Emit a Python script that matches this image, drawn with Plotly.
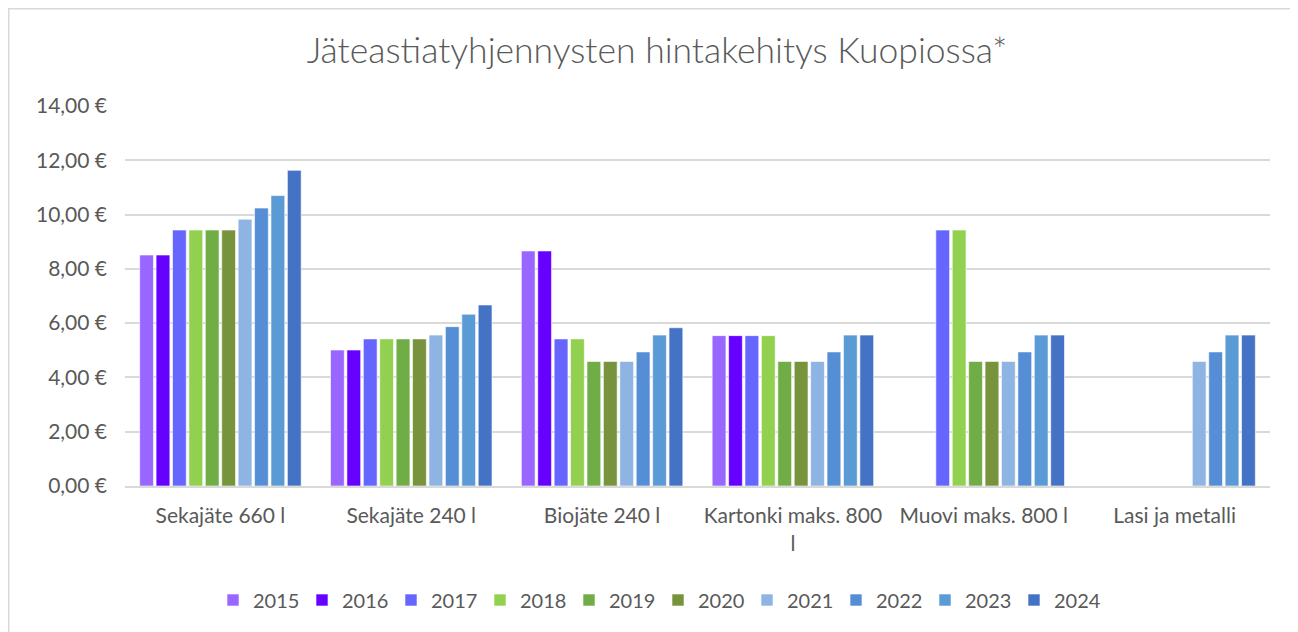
import plotly.graph_objects as go

categories = ["Sekajäte 660 l", "Sekajäte 240 l", "Biojäte 240 l",
              "Kartonki maks. 800<br>l", "Muovi maks. 800 l", "Lasi ja metalli"]
years = ["2015", "2016", "2017", "2018", "2019", "2020", "2021", "2022", "2023", "2024"]
values = {
    "2015": [8.51, 5.01, 8.66, 5.54, None, None],
    "2016": [8.51, 5.01, 8.66, 5.54, None, None],
    "2017": [9.43, 5.42, 5.42, 5.54, 9.43, None],
    "2018": [9.43, 5.42, 5.42, 5.54, 9.43, None],
    "2019": [9.43, 5.42, 4.59, 4.59, 4.59, None],
    "2020": [9.43, 5.42, 4.59, 4.59, 4.59, None],
    "2021": [9.83, 5.56, 4.59, 4.59, 4.59, 4.59],
    "2022": [10.24, 5.87, 4.94, 4.94, 4.94, 4.94],
    "2023": [10.70, 6.33, 5.56, 5.56, 5.56, 5.56],
    "2024": [11.63, 6.67, 5.83, 5.56, 5.56, 5.56],
}
colors = ["#9966FF", "#6600FF", "#6666FF", "#92D050", "#70AD47",
          "#77933C", "#8EB4E3", "#558ED5", "#5B9BD5", "#4472C4"]
tick_vals = [0, 2, 4, 6, 8, 10, 12, 14]
tick_text = ["0,00 €", "2,00 €", "4,00 €", "6,00 €", "8,00 €", "10,00 €", "12,00 €", "14,00 €"]
title = "Jäteastiatyhjennysten hintakehitys Kuopiossa*"

FONT = "Lato, Open Sans, sans-serif"
TXT = "#595959"

W, H = 1298, 632
L, R, T, B = 117, 36, 98, 154
PW, PH = W - L - R, H - T - B

fig = go.Figure()
for y, c in zip(years, colors):
    fig.add_trace(go.Bar(
        name=y, x=categories, y=values[y],
        marker=dict(color=c, line=dict(color="rgba(255,255,255,0.6)", width=1)),
    ))

fig.update_layout(
    width=W, height=H,
    barmode="group", bargap=0.14, bargroupgap=0.16,
    paper_bgcolor="white", plot_bgcolor="white",
    margin=dict(l=L, r=R, t=T, b=B, autoexpand=False),
    title=dict(text=title, x=0.5, xanchor="center", y=1 - 43 / H, yanchor="middle",
               font=dict(family=FONT, size=35.5, color=TXT, weight=300)),
    font=dict(family=FONT, color=TXT),
    legend=dict(orientation="h", x=(650 - L) / PW, xanchor="center",
                y=(H - B - 592) / PH, yanchor="middle",
                font=dict(family=FONT, size=20, color=TXT),
                itemwidth=30, entrywidth=44, entrywidthmode="pixels",
                traceorder="normal"),
    showlegend=True,
)
fig.update_yaxes(range=[0, 14], tickvals=tick_vals, ticktext=tick_text,
                 showgrid=True, gridcolor="#D9D9D9", gridwidth=2,
                 zeroline=False, showline=False, ticks="", ticklen=0,
                 ticklabelstandoff=17,
                 tickfont=dict(family=FONT, size=21, color=TXT))
fig.update_xaxes(showline=True, linecolor="#D9D9D9", linewidth=2, ticks="",
                 ticklabelstandoff=10,
                 tickfont=dict(family=FONT, size=21, color=TXT))

# outer chart border (left and top visible)
fig.add_shape(type="rect", xref="paper", yref="paper",
              x0=(0.75 - L) / PW, x1=(W + 20 - L) / PW,
              y0=(H - B - (H + 20)) / PH, y1=(H - B - 0.75) / PH,
              line=dict(color="#D9D9D9", width=1.5), fillcolor="rgba(0,0,0,0)")

fig.write_html("out.html")
